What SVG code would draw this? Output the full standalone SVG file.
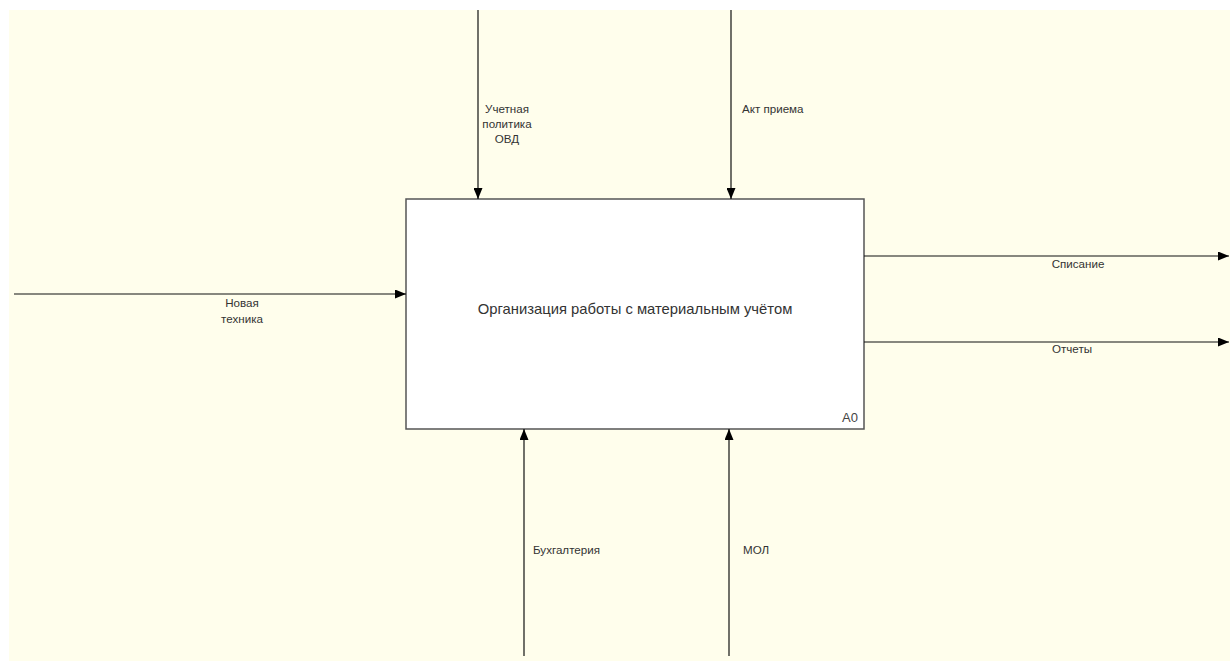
<svg xmlns="http://www.w3.org/2000/svg" width="1230" height="661" viewBox="0 0 1230 661">
  <defs>
    <marker id="arrow" markerWidth="11" markerHeight="9" refX="11" refY="4.5" orient="auto" markerUnits="userSpaceOnUse">
      <path d="M0,0 L11,4.5 L0,9 Z" fill="#000"/>
    </marker>
    <style>
      .bg { fill: #fffeec; }
      .box { fill: #fff; stroke: #555; stroke-width: 1.5; }
      .arc { stroke: #111; stroke-width: 1.2; fill: none; marker-end: url(#arrow); }
      .lbl { font-family: "Liberation Sans", Arial, sans-serif; font-size: 11.6px; fill: #333; }
      .title { font-family: "Liberation Sans", Arial, sans-serif; font-size: 14.8px; fill: #333; }
      .num { font-family: "Liberation Sans", Arial, sans-serif; font-size: 13px; fill: #444; }
    </style>
  </defs>

  <rect x="0" y="0" width="1230" height="661" fill="#fff"/>
  <rect class="bg" x="9" y="10" width="1221" height="651"/>

  <!-- activity A0 -->
  <g id="A0">
    <rect class="box" x="406" y="199" width="458" height="230"/>
    <text class="title" x="635" y="314" text-anchor="middle">Организация работы с материальным учётом</text>
    <text class="num" x="858" y="422" text-anchor="end">A0</text>
  </g>

  <!-- arrows -->
  <g id="connectors">
    <line class="arc" x1="478" y1="10" x2="478" y2="199"/>
    <line class="arc" x1="731" y1="10" x2="731" y2="199"/>
    <line class="arc" x1="14" y1="294" x2="406" y2="294"/>
    <line class="arc" x1="864" y1="256" x2="1229" y2="256"/>
    <line class="arc" x1="864" y1="342" x2="1229" y2="342"/>
    <line class="arc" x1="524" y1="656" x2="524" y2="429"/>
    <line class="arc" x1="729" y1="656" x2="729" y2="429"/>
  </g>

  <!-- arrow labels -->
  <g id="labels">
    <text class="lbl" text-anchor="middle"><tspan x="507" y="113">Учетная</tspan><tspan x="507" y="128">политика</tspan><tspan x="507" y="143">ОВД</tspan></text>
    <text class="lbl" x="742" y="113">Акт приема</text>
    <text class="lbl" text-anchor="middle"><tspan x="242" y="307">Новая</tspan><tspan x="242" y="323">техника</tspan></text>
    <text class="lbl" x="1078" y="268" text-anchor="middle">Списание</text>
    <text class="lbl" x="1072" y="353" text-anchor="middle">Отчеты</text>
    <text class="lbl" x="533" y="554">Бухгалтерия</text>
    <text class="lbl" x="743" y="554">МОЛ</text>
  </g>
</svg>
